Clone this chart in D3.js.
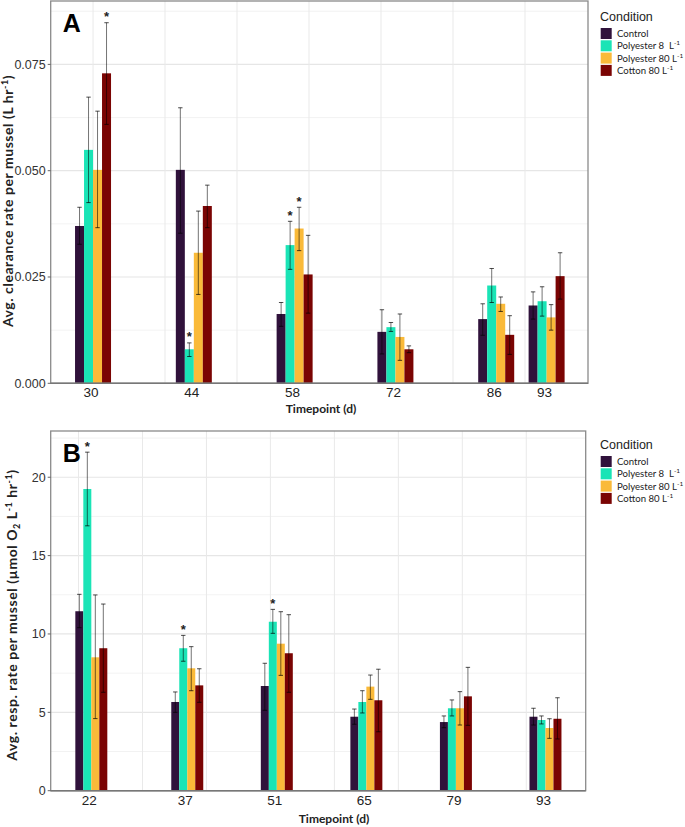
<!DOCTYPE html>
<html><head><meta charset="utf-8">
<script src="https://cdn.jsdelivr.net/npm/d3@7"></script>
<style>body{margin:0;background:#fff} svg{display:block}</style>
</head><body><svg id="c" width="685" height="827"></svg>
<script>
// ---------- data ----------
const conditions = ["Control", "Polyester 8", "Polyester 80", "Cotton 80"];
const conditionColors = ["#30123B", "#1AE4B6", "#FABA39", "#7A0403"];

// Panel A: clearance rate (L hr-1)
const timepointsA = [30, 44, 58, 72, 86, 93];
const clearanceControl     = [0.0370, 0.0502, 0.0163, 0.0121, 0.0151, 0.0183];
const clearanceControlLo   = [0.0327, 0.0353, 0.0134, 0.0069, 0.0113, 0.0151];
const clearanceControlHi   = [0.0414, 0.0648, 0.0190, 0.0173, 0.0187, 0.0215];
const clearancePoly8       = [0.0549, 0.0080, 0.0325, 0.0132, 0.0230, 0.0193];
const clearancePoly8Lo     = [0.0425, 0.0063, 0.0268, 0.0122, 0.0190, 0.0158];
const clearancePoly8Hi     = [0.0673, 0.0095, 0.0381, 0.0143, 0.0270, 0.0227];
const clearancePoly80      = [0.0502, 0.0307, 0.0364, 0.0109, 0.0187, 0.0155];
const clearancePoly80Lo    = [0.0366, 0.0209, 0.0312, 0.0054, 0.0169, 0.0125];
const clearancePoly80Hi    = [0.0640, 0.0405, 0.0414, 0.0163, 0.0203, 0.0185];
const clearanceCotton      = [0.0729, 0.0417, 0.0256, 0.0080, 0.0114, 0.0252];
const clearanceCottonLo    = [0.0609, 0.0366, 0.0165, 0.0072, 0.0068, 0.0198];
const clearanceCottonHi    = [0.0848, 0.0466, 0.0348, 0.0088, 0.0159, 0.0307];
const yTicksA = [0, 0.025, 0.05, 0.075];
const yTickLabelsA = ["0.000", "0.025", "0.050", "0.075"];
const starsA = [[30, 3], [44, 1], [58, 1], [58, 2]]; // [timepoint, condition index]

// Panel B: respiration rate (umol O2 L-1 hr-1)
const timepointsB = [22, 37, 51, 65, 79, 93];
const respControl     = [11.45, 5.66, 6.68, 4.72, 4.38, 4.72];
const respControlLo   = [10.40, 5.00, 5.13, 4.24, 4.02, 4.19];
const respControlHi   = [12.53, 6.30, 8.13, 5.21, 4.77, 5.26];
const respPoly8       = [19.25, 9.09, 10.78, 5.66, 5.26, 4.51];
const respPoly8Lo     = [16.90, 8.26, 10.04, 4.96, 4.77, 4.26];
const respPoly8Hi     = [21.60, 9.91, 11.57, 6.38, 5.79, 4.77];
const respPoly80      = [8.51, 7.81, 9.38, 6.64, 5.26, 4.00];
const respPoly80Lo    = [4.60, 6.38, 7.36, 5.83, 4.19, 3.34];
const respPoly80Hi    = [12.49, 9.19, 11.42, 7.38, 6.32, 4.59];
const respCotton      = [9.09, 6.72, 8.77, 5.77, 6.02, 4.59];
const respCottonLo    = [6.28, 5.64, 6.28, 3.76, 4.17, 3.30];
const respCottonHi    = [11.91, 7.78, 11.23, 7.75, 7.87, 5.93];
const yTicksB = [0, 5, 10, 15, 20];
const yTickLabelsB = ["0", "5", "10", "15", "20"];
const starsB = [[22, 1], [37, 1], [51, 1]];

// ---------- drawing ----------
const svg = d3.select("#c");
const dodge = 5, barW = dodge / 4;

function panel(opt) {
  const g = svg.append("g");
  const x = d3.scaleLinear().domain(opt.xDomain).range([opt.left, opt.right]);
  const y = d3.scaleLinear().domain(opt.yDomain).range([opt.bottom, opt.top]);

  // grid
  const minorY = [];
  const step = opt.yTicks[1] - opt.yTicks[0];
  for (let i = 0; i < opt.yTicks.length; i++) {
    const v = opt.yTicks[i] + step / 2;
    if (v < opt.yDomain[1]) minorY.push(v);
  }
  g.selectAll(".gym").data(minorY).join("line")
    .attr("x1", opt.left).attr("x2", opt.right)
    .attr("y1", d => y(d)).attr("y2", d => y(d))
    .attr("stroke", "#ececec").attr("stroke-width", 0.7);
  g.selectAll(".gy").data(opt.yTicks).join("line")
    .attr("x1", opt.left).attr("x2", opt.right)
    .attr("y1", d => y(d)).attr("y2", d => y(d))
    .attr("stroke", "#e6e6e6").attr("stroke-width", 1.2);
  g.selectAll(".gx").data(opt.xGrid).join("line")
    .attr("x1", d => x(d)).attr("x2", d => x(d))
    .attr("y1", opt.top).attr("y2", opt.bottom)
    .attr("stroke", "#e9e9e9").attr("stroke-width", 1);

  // bars
  opt.series.forEach((s, i) => {
    const off = (i - 1.5) * barW;
    g.selectAll(null).data(opt.timepoints).join("rect")
      .attr("x", t => x(t + off - barW / 2))
      .attr("width", x(barW) - x(0))
      .attr("y", (t, j) => y(s.mean[j]))
      .attr("height", (t, j) => y(0) - y(s.mean[j]))
      .attr("fill", conditionColors[i]);
  });
  // error bars
  opt.series.forEach((s, i) => {
    const off = (i - 1.5) * barW;
    opt.timepoints.forEach((t, j) => {
      const cx = x(t + off);
      g.append("line").attr("x1", cx).attr("x2", cx)
        .attr("y1", y(s.lo[j])).attr("y2", y(s.hi[j]))
        .attr("stroke", "rgba(0,0,0,0.55)").attr("stroke-width", 1);
      [s.lo[j], s.hi[j]].forEach(v => {
        g.append("line").attr("x1", cx - 2.2).attr("x2", cx + 2.2)
          .attr("y1", y(v)).attr("y2", y(v))
          .attr("stroke", "rgba(0,0,0,0.7)").attr("stroke-width", 1);
      });
    });
  });
  // stars
  opt.stars.forEach(([t, i]) => {
    const j = opt.timepoints.indexOf(t);
    g.append("text").attr("x", x(t + (i - 1.5) * barW)).attr("y", y(opt.series[i].hi[j]) - 1.5)
      .attr("text-anchor", "middle").attr("font-family", "Liberation Sans, Arial")
      .attr("font-size", 13).attr("font-weight", "bold").attr("fill", "#222").text("*");
  });

  // border
  g.append("rect").attr("x", opt.left).attr("y", opt.top)
    .attr("width", opt.right - opt.left).attr("height", opt.bottom - opt.top)
    .attr("fill", "none").attr("stroke", "#8a8a8a").attr("stroke-width", 1.3);
  g.append("line").attr("x1", opt.left).attr("x2", opt.right)
    .attr("y1", opt.bottom).attr("y2", opt.bottom).attr("stroke", "#777").attr("stroke-width", 1.5);

  // y axis ticks
  g.selectAll(".yt").data(opt.yTicks).join("line")
    .attr("x1", opt.left - 3).attr("x2", opt.left)
    .attr("y1", d => y(d)).attr("y2", d => y(d))
    .attr("stroke", "#666").attr("stroke-width", 1);
  g.selectAll(".yl").data(opt.yTicks).join("text")
    .attr("x", opt.left - 5).attr("y", d => y(d) + 4.5)
    .attr("text-anchor", "end").attr("font-family", "Liberation Sans, Arial")
    .attr("font-size", 12.5).attr("fill", "#333")
    .text((d, k) => opt.yTickLabels[k]);
  // x labels
  g.selectAll(".xl").data(opt.timepoints).join("text")
    .attr("x", d => x(d) - 2).attr("y", opt.bottom + 14)
    .attr("text-anchor", "middle").attr("font-family", "Liberation Sans, Arial")
    .attr("font-size", 13.5).attr("fill", "#222")
    .text(d => d);

  // x title
  g.append("text").attr("x", opt.xTitleX).attr("y", opt.bottom + opt.xTitleDy)
    .attr("text-anchor", "middle").attr("font-family", "Lato, Open Sans")
    .attr("font-weight", "bold").attr("font-size", 12).attr("fill", "#222")
    .text("Timepoint (d)");
  // y title
  const yt = g.append("text")
    .attr("transform", `translate(${opt.yTitleX},${opt.yTitleY}) rotate(-90)`)
    .attr("text-anchor", "middle").attr("font-family", "Lato, Open Sans")
    .attr("font-weight", "bold").attr("font-size", 14).attr("letter-spacing", 0.55)
    .attr("fill", "#222");
  opt.yTitle(yt);

  // panel letter
  g.append("text").attr("x", opt.left + 12).attr("y", opt.top + 31)
    .attr("font-family", "Liberation Sans, Arial").attr("font-weight", "bold")
    .attr("font-size", 25).attr("fill", "#000").text(opt.letter);

  // legend
  const lg = g.append("g").attr("transform", `translate(600,${opt.legendY})`);
  lg.append("text").attr("x", 0).attr("y", 0).attr("font-family", "Liberation Sans, Arial")
    .attr("font-size", 12.5).attr("fill", "#222").text("Condition");
  const labels = [["Control", null], ["Polyester 8  L", "-1"], ["Polyester 80 L", "-1"], ["Cotton 80 L", "-1"]];
  labels.forEach((l, i) => {
    lg.append("rect").attr("x", 0.7).attr("y", 7 + i * 12.3).attr("width", 11).attr("height", 11)
      .attr("fill", conditionColors[i]);
    const t = lg.append("text").attr("x", 17).attr("y", 16 + i * 12.3)
      .attr("font-family", "Lato, Open Sans").attr("font-size", 9.6).attr("fill", "#222")
      .style("white-space", "pre").attr("xml:space", "preserve");
    t.append("tspan").text(l[0]);
    if (l[1]) t.append("tspan").attr("font-size", 6.5).attr("dy", -4).text(l[1]);
  });
  return {x, y};
}

const seriesA = [
  {mean: clearanceControl, lo: clearanceControlLo, hi: clearanceControlHi},
  {mean: clearancePoly8, lo: clearancePoly8Lo, hi: clearancePoly8Hi},
  {mean: clearancePoly80, lo: clearancePoly80Lo, hi: clearancePoly80Hi},
  {mean: clearanceCotton, lo: clearanceCottonLo, hi: clearanceCottonHi}
];
const seriesB = [
  {mean: respControl, lo: respControlLo, hi: respControlHi},
  {mean: respPoly8, lo: respPoly8Lo, hi: respPoly8Hi},
  {mean: respPoly80, lo: respPoly80Lo, hi: respPoly80Hi},
  {mean: respCotton, lo: respCottonLo, hi: respCottonHi}
];

panel({
  letter: "A", left: 50.7, right: 588, top: 1, bottom: 383.3,
  xDomain: [24.12, 98.75], yDomain: [0, 0.08991],
  xGrid: [30, 40, 50, 60, 70, 80, 90],
  timepoints: timepointsA, series: seriesA, stars: starsA,
  yTicks: yTicksA, yTickLabels: yTickLabelsA,
  xTitleX: 321, xTitleDy: 30, yTitleX: 13, yTitleY: 201, legendY: 21,
  yTitle: t => {
    t.append("tspan").text("Avg. clearance rate per mussel (L hr");
    t.append("tspan").attr("font-size", 9).attr("dy", -5).text("-1");
    t.append("tspan").attr("dy", 5).text(")");
  }
});
panel({
  letter: "B", left: 50.7, right: 585.7, top: 431, bottom: 790.7,
  xDomain: [15.65, 99.29], yDomain: [0, 22.95],
  xGrid: [20, 30, 40, 50, 60, 70, 80, 90],
  timepoints: timepointsB, series: seriesB, stars: starsB,
  yTicks: yTicksB, yTickLabels: yTickLabelsB,
  xTitleX: 334, xTitleDy: 32, yTitleX: 16.5, yTitleY: 615, legendY: 449,
  yTitle: t => {
    t.append("tspan").text("Avg. resp. rate per mussel (µmol O");
    t.append("tspan").attr("font-size", 9).attr("dy", 3).text("2");
    t.append("tspan").attr("dy", -3).text(" L");
    t.append("tspan").attr("font-size", 9).attr("dy", -5).text("-1");
    t.append("tspan").attr("dy", 5).text(" hr");
    t.append("tspan").attr("font-size", 9).attr("dy", -5).text("-1");
    t.append("tspan").attr("dy", 5).text(")");
  }
});
</script>
</body></html>
